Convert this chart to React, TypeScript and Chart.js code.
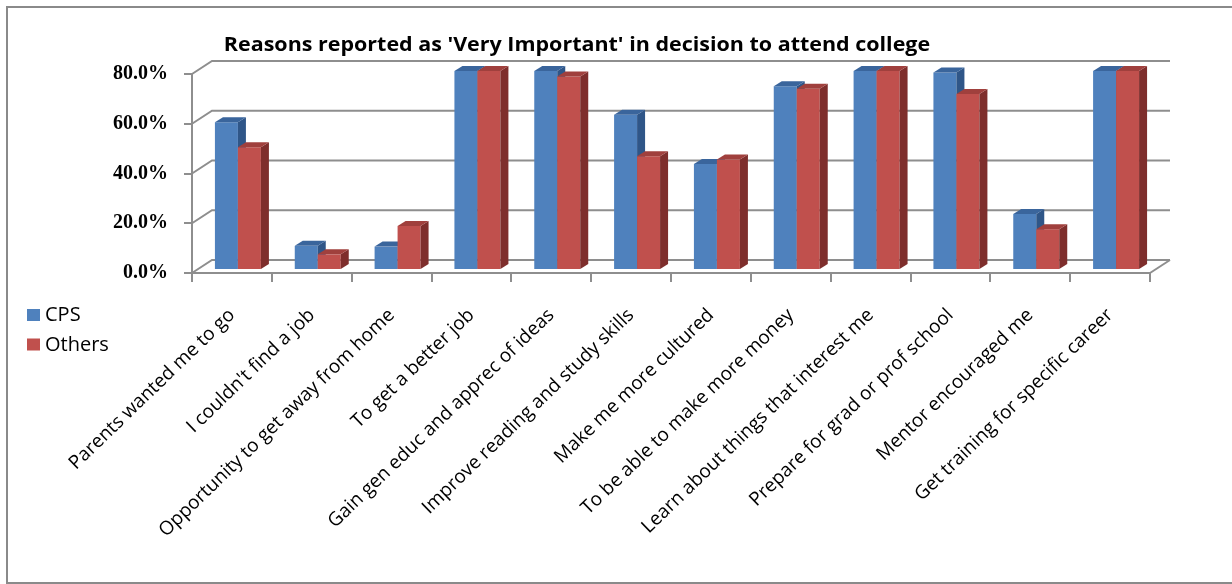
import React, { useEffect, useRef } from 'react';
import { Chart, registerables } from 'chart.js';

Chart.register(...registerables);

const titleText = "Reasons reported as 'Very Important' in decision to attend college";
const categories = [
  'Parents wanted me to go',
  "I couldn't find a job",
  'Opportunity to get away from home',
  'To get a better job',
  'Gain gen educ and apprec of ideas',
  'Improve reading and study skills',
  'Make me more cultured',
  'To be able to make more money',
  'Learn about things that interest me',
  'Prepare for grad or prof school',
  'Mentor encouraged me',
  'Get training for specific career',
];
const seriesNames = ['CPS', 'Others'];
const cpsValues = [59.4, 9.7, 9.4, 80, 80, 62.4, 42.6, 73.9, 80, 79.4, 22.5, 80];
const othersValues = [49.3, 6.3, 17.7, 80, 77.8, 45.7, 44.4, 72.9, 80, 70.8, 16.4, 80];
const yTicks = [0, 20, 40, 60, 80];

const FRONT = ['#4F81BD', '#C0504D'];
const SIDE = ['#2F5688', '#7E2E2C'];
const TOP = ['#3A659C', '#A0403D'];
const GRID = '#8E8E8E';

// 3D geometry (pixels)
const WDX = 20, WDY = -13; // wall depth
const BX = 6, BY = -3; // bar front plane offset
const BDX = 8, BDY = -5; // bar depth

const threeD = {
  id: 'threeD',
  beforeDatasetsDraw(chart: any) {
    const { ctx, chartArea, scales } = chart;
    const { left, right, bottom } = chartArea;
    const y = scales.y;
    ctx.save();
    ctx.strokeStyle = GRID;
    ctx.lineWidth = 2;
    for (const v of yTicks) {
      const py = y.getPixelForValue(v);
      ctx.beginPath();
      ctx.moveTo(left, py);
      ctx.lineTo(left + WDX, py + WDY);
      ctx.lineTo(right + WDX, py + WDY);
      ctx.stroke();
    }
    ctx.beginPath();
    ctx.moveTo(right, bottom);
    ctx.lineTo(right + WDX, bottom + WDY);
    ctx.stroke();

    const metas = [chart.getDatasetMeta(0), chart.getDatasetMeta(1)];
    const n = categories.length;
    for (let i = 0; i < n; i++) {
      metas.forEach((meta: any, d: number) => {
        const el = meta.data[i];
        if (!el) return;
        const { x, y: top, base, width } = el.getProps(['x', 'y', 'base', 'width'], true);
        ctx.save();
        ctx.translate(BX, BY);
        el.draw(ctx, chartArea);
        ctx.restore();
        const l = x - width / 2 + BX;
        const r = x + width / 2 + BX;
        const t = top + BY;
        const b = base + BY;
        ctx.fillStyle = SIDE[d];
        ctx.beginPath();
        ctx.moveTo(r, t);
        ctx.lineTo(r + BDX, t + BDY);
        ctx.lineTo(r + BDX, b + BDY);
        ctx.lineTo(r, b);
        ctx.closePath();
        ctx.fill();
        ctx.fillStyle = TOP[d];
        ctx.beginPath();
        ctx.moveTo(l, t);
        ctx.lineTo(l + BDX, t + BDY);
        ctx.lineTo(r + BDX, t + BDY);
        ctx.lineTo(r, t);
        ctx.closePath();
        ctx.fill();
      });
    }
    ctx.restore();
    return false;
  },
  afterDraw(chart: any) {
    const { ctx } = chart;
    ctx.save();
    ctx.fillStyle = '#000';
    ctx.font = 'bold 19px "Open Sans"';
    ctx.textAlign = 'center';
    ctx.textBaseline = 'alphabetic';
    ctx.save();
    ctx.translate(577, 51);
    ctx.scale(1.13, 1);
    ctx.fillText(titleText, 0, 0);
    ctx.restore();
    ctx.font = '20px "Open Sans"';
    ctx.textAlign = 'left';
    chart.data.datasets.forEach((ds: any, d: number) => {
      const yb = 321 + d * 29.5;
      ctx.fillStyle = FRONT[d];
      ctx.fillRect(27, yb - 12, 13, 12);
      ctx.fillStyle = '#000';
      ctx.fillText(ds.label, 45, yb);
    });
    ctx.restore();
  },
};

export default function App() {
  const ref = useRef<HTMLCanvasElement | null>(null);
  useEffect(() => {
    if (!ref.current) return;
    const chart = new Chart(ref.current, {
      type: 'bar',
      data: {
        labels: categories,
        datasets: [
          { label: seriesNames[0], data: cpsValues, backgroundColor: FRONT[0], borderWidth: 0 },
          { label: seriesNames[1], data: othersValues, backgroundColor: FRONT[1], borderWidth: 0 },
        ],
      },
      options: {
        responsive: false,
        animation: false,
        devicePixelRatio: 1,
        layout: { padding: { left: 0, top: 74, right: 82, bottom: 0 } },
        datasets: { bar: { categoryPercentage: 0.576, barPercentage: 1 } },
        plugins: { legend: { display: false }, title: { display: false }, tooltip: { enabled: false } },
        scales: {
          x: {
            grid: { offset: true, drawOnChartArea: false, drawTicks: true, tickLength: 9, color: GRID, lineWidth: 2 },
            border: { display: true, color: GRID, width: 2 },
            ticks: {
              autoSkip: false,
              maxRotation: 44,
              minRotation: 44,
              color: '#000',
              padding: 22,
              font: { family: '"Open Sans"', size: 19 },
            },
            afterFit: (s: any) => { s.height = 584 - 273; },
          },
          y: {
            min: 0,
            max: 80,
            afterBuildTicks: (s: any) => { s.ticks = yTicks.map((v) => ({ value: v })); },
            grid: { drawOnChartArea: false, drawTicks: true, tickLength: 8, color: GRID, lineWidth: 2 },
            border: { display: true, color: GRID, width: 2 },
            ticks: {
              color: '#000',
              padding: 16,
              font: { family: '"Liberation Serif"', size: 20, weight: 'bold' },
              callback: (v: any) => Number(v).toFixed(1) + '%',
            },
            afterFit: (s: any) => { s.width = 192; },
          },
        },
      },
      plugins: [threeD],
    });
    return () => chart.destroy();
  }, []);
  return (
    <>
      <div
        style={{
          position: 'fixed', left: 6, top: 6, width: 1240, height: 578,
          boxSizing: 'border-box', border: '2px solid #8A8A8A',
        }}
      />
      <canvas
        ref={ref}
        width={1232}
        height={584}
        style={{ position: 'fixed', left: 0, top: 0, width: 1232, height: 584, display: 'block' }}
      />
    </>
  );
}
